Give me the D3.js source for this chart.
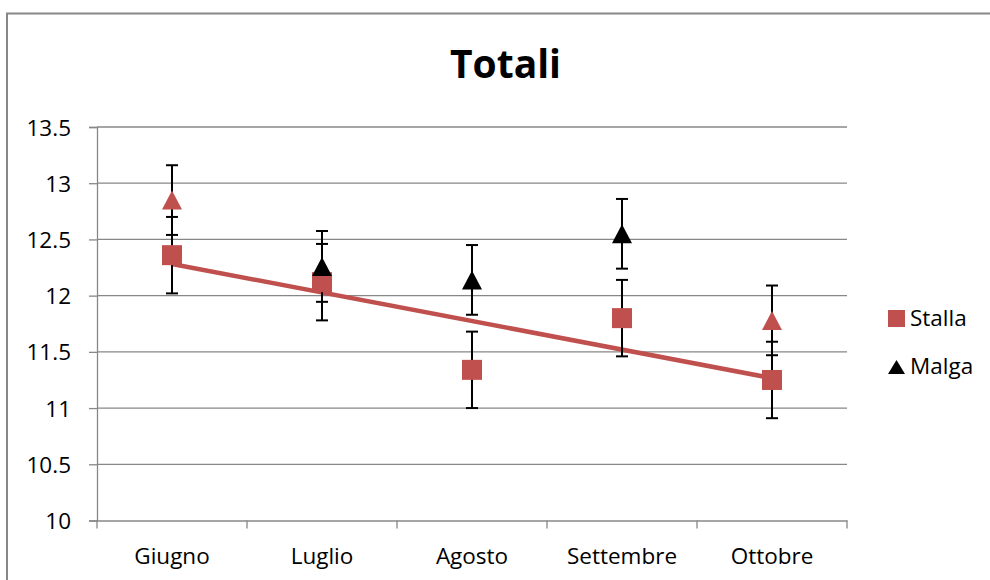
<!DOCTYPE html>
<html>
<head>
<meta charset="utf-8">
<script src="https://cdn.jsdelivr.net/npm/d3@7"></script>
<style>
  html, body { margin: 0; padding: 0; background: #fff; }
  svg { display: block; font-family: "Open Sans", "Noto Sans", sans-serif; }
</style>
</head>
<body>
<svg id="chart" width="990" height="580"></svg>
<script>
// ---- data ----
const categories = ["Giugno", "Luglio", "Agosto", "Settembre", "Ottobre"];
const stallaValues = [12.36, 12.12, 11.34, 11.80, 11.25];
const stallaErrors = [0.34, 0.34, 0.34, 0.34, 0.34];
const malgaValues = [12.85, 12.26, 12.14, 12.55, 11.78];
const malgaErrors = [0.31, 0.315, 0.31, 0.31, 0.31];
const malgaPointColors = ["#C0504D", "#000000", "#000000", "#000000", "#C0504D"];
const yTicks = [10, 10.5, 11, 11.5, 12, 12.5, 13, 13.5];
const seriesNames = ["Stalla", "Malga"];
const chartTitle = "Totali";

const RED = "#C0504D";
const GRID = "#878787";
const FS = 22.5;

const svg = d3.select("#chart");

// outer chart border
svg.append("rect")
  .attr("x", 7).attr("y", 13.5).attr("width", 1000).attr("height", 600)
  .attr("fill", "none").attr("stroke", GRID).attr("stroke-width", 2);

// scales
const x = d3.scaleBand().domain(categories).range([97, 847]).padding(0);
const y = d3.scaleLinear().domain([10, 13.5]).range([520.5, 127]);
const cx = d => x(d) + x.bandwidth() / 2;

// title
svg.append("text")
  .attr("x", 505.5).attr("y", 78)
  .attr("text-anchor", "middle")
  .attr("font-size", 39).attr("font-weight", "bold")
  .attr("fill", "#000")
  .text(chartTitle);

// gridlines
svg.append("g").selectAll("line")
  .data(yTicks.filter(t => t !== 10))
  .join("line")
  .attr("x1", 97).attr("x2", 847)
  .attr("y1", d => y(d)).attr("y2", d => y(d))
  .attr("stroke", GRID).attr("stroke-width", 1.3);

// y axis
const yAxis = d3.axisLeft(y).tickValues(yTicks).tickSize(8).tickPadding(18)
  .tickFormat(d => String(d));
const gy = svg.append("g").attr("transform", "translate(97,0)").call(yAxis);
gy.select(".domain").attr("stroke", GRID).attr("stroke-width", 1.3);
gy.selectAll(".tick line").attr("stroke", GRID).attr("stroke-width", 1.3);
gy.selectAll(".tick text").attr("font-size", FS).attr("fill", "#000")
  .attr("font-family", "'Open Sans', sans-serif").attr("dy", "0.36em");

// x axis
const xAxis = d3.axisBottom(x).tickSize(0).tickPadding(0);
const gx = svg.append("g").attr("transform", "translate(0,520.5)").call(xAxis);
gx.select(".domain").attr("stroke", GRID).attr("stroke-width", 1.3);
gx.selectAll(".tick text").attr("font-size", FS).attr("fill", "#000")
  .attr("font-family", "'Open Sans', sans-serif").attr("y", 43).attr("dy", 0);
// category boundary ticks
const bounds = categories.map(c => x(c)).concat([x(categories[categories.length - 1]) + x.bandwidth()]);
gx.append("g").selectAll("line").data(bounds).join("line")
  .attr("x1", d => d).attr("x2", d => d).attr("y1", 0).attr("y2", 8)
  .attr("stroke", GRID).attr("stroke-width", 1.3);

// trend line (linear regression on Stalla)
const n = stallaValues.length;
const xs = d3.range(1, n + 1);
const mx = d3.mean(xs), my = d3.mean(stallaValues);
const slope = d3.sum(xs.map((xi, i) => (xi - mx) * (stallaValues[i] - my))) /
              d3.sum(xs.map(xi => (xi - mx) * (xi - mx)));
const intercept = my - slope * mx;
const trendPts = [0, n - 1].map(i => [cx(categories[i]), y(intercept + slope * (i + 1))]);
svg.append("path")
  .attr("d", d3.line()(trendPts))
  .attr("stroke", RED).attr("stroke-width", 4.5).attr("fill", "none");

// error bars
function errorBars(values, errors) {
  const g = svg.append("g").attr("stroke", "#000").attr("stroke-width", 2);
  values.forEach((v, i) => {
    const px = cx(categories[i]);
    const y1 = y(v + errors[i]), y2 = y(v - errors[i]);
    g.append("line").attr("x1", px).attr("x2", px).attr("y1", y1).attr("y2", y2);
    g.append("line").attr("x1", px - 6).attr("x2", px + 6).attr("y1", y1).attr("y2", y1);
    g.append("line").attr("x1", px - 6).attr("x2", px + 6).attr("y1", y2).attr("y2", y2);
  });
}
errorBars(stallaValues, stallaErrors);
errorBars(malgaValues, malgaErrors);

// Stalla markers
svg.append("g").selectAll("rect").data(stallaValues).join("rect")
  .attr("x", (d, i) => cx(categories[i]) - 10)
  .attr("y", d => y(d) - 10)
  .attr("width", 20).attr("height", 20)
  .attr("fill", RED);

// Malga markers
const tri = (w, h) => `M0,${-h / 2}L${w / 2},${h / 2}L${-w / 2},${h / 2}Z`;
svg.append("g").selectAll("path").data(malgaValues).join("path")
  .attr("transform", (d, i) => `translate(${cx(categories[i])},${y(d)})`)
  .attr("d", tri(20, 19))
  .attr("fill", (d, i) => malgaPointColors[i]);

// legend
const lg = svg.append("g");
lg.append("rect").attr("x", 888).attr("y", 310).attr("width", 17).attr("height", 17).attr("fill", RED);
lg.append("text").attr("x", 910).attr("y", 326).attr("font-size", FS).attr("fill", "#000").text(seriesNames[0]);
lg.append("path").attr("transform", "translate(896.5,367)").attr("d", tri(17, 14)).attr("fill", "#000");
lg.append("text").attr("x", 910).attr("y", 374).attr("font-size", FS).attr("fill", "#000").text(seriesNames[1]);
</script>
</body>
</html>
